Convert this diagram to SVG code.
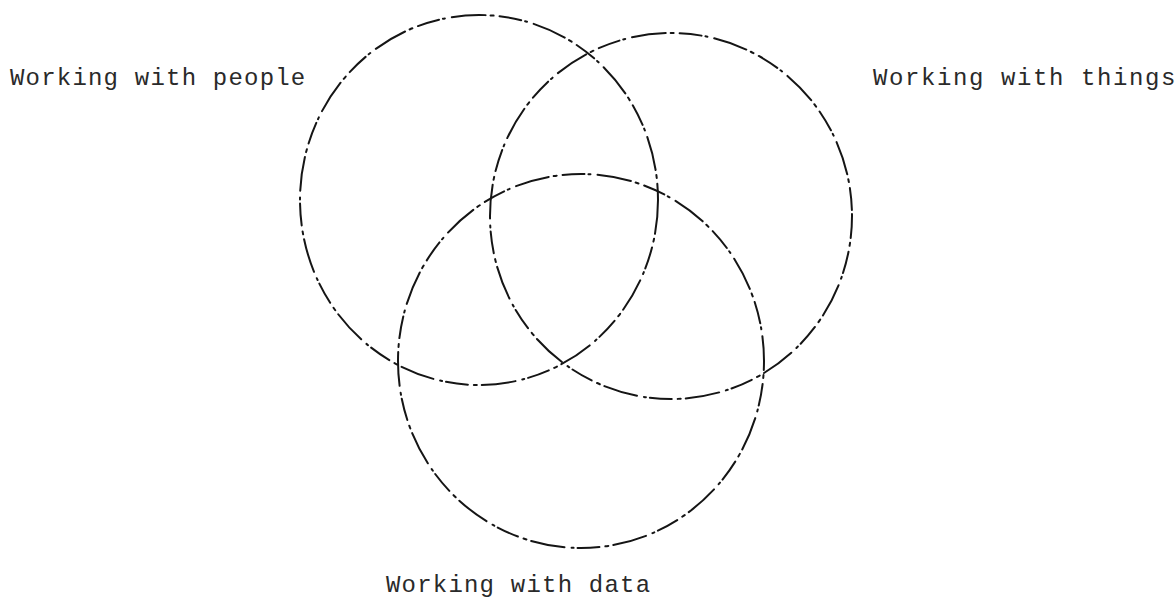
<svg xmlns="http://www.w3.org/2000/svg" width="1176" height="599" viewBox="0 0 1176 599">
<style>
.c{fill:none;stroke:#151515;stroke-width:2;stroke-dasharray:34 5 3 6 22 4 2 7;stroke-linecap:round}
.t{font-family:"Liberation Mono","DejaVu Sans Mono",monospace;font-size:24px;letter-spacing:1.2px;fill:#2a2a2a}
</style>
<rect width="1176" height="599" fill="#fff"/>
<g id="connectors"></g>
<g id="people">
<ellipse class="c" cx="479" cy="200" rx="179" ry="185"/>
<text class="t" x="10" y="85">Working with people</text>
</g>
<g id="things">
<ellipse class="c" cx="671" cy="216" rx="181" ry="183" style="stroke-dashoffset:12"/>
<text class="t" x="873" y="85" style="letter-spacing:1.6px">Working with things</text>
</g>
<g id="data">
<ellipse class="c" cx="581" cy="361" rx="183" ry="187" style="stroke-dashoffset:25"/>
<text class="t" x="386" y="592">Working with data</text>
</g>
</svg>
